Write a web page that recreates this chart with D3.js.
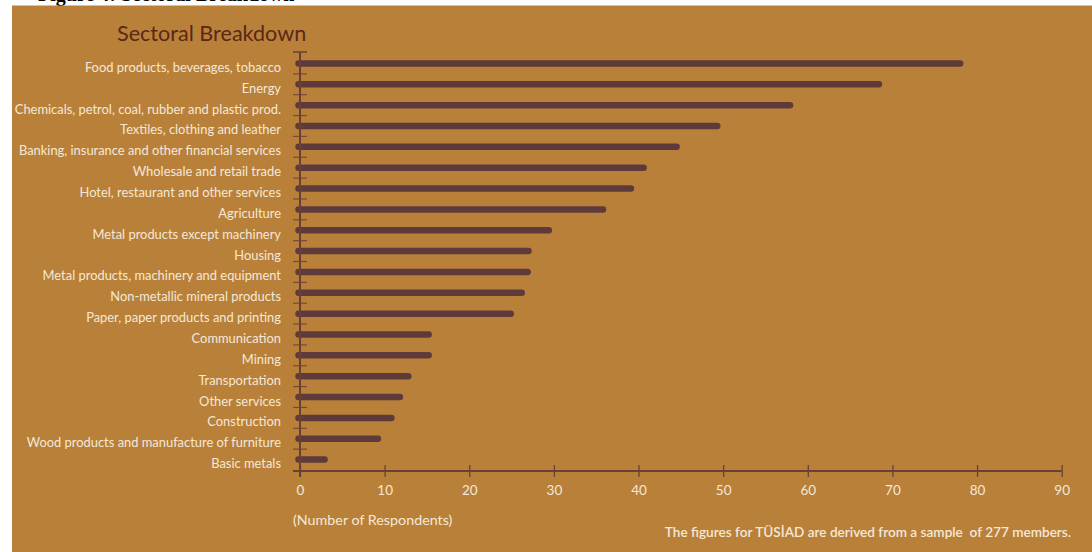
<!DOCTYPE html>
<html>
<head>
<meta charset="utf-8">
<script src="https://cdn.jsdelivr.net/npm/d3@7"></script>
<style>
  html, body { margin: 0; padding: 0; background: #ffffff; }
  svg { display: block; }
</style>
</head>
<body>
<svg id="chart" width="1092" height="552"></svg>
<script>
const categories = [
  "Food products, beverages, tobacco",
  "Energy",
  "Chemicals, petrol, coal, rubber and plastic prod.",
  "Textiles, clothing and leather",
  "Banking, insurance and other financial services",
  "Wholesale and retail trade",
  "Hotel, restaurant and other services",
  "Agriculture",
  "Metal products except machinery",
  "Housing",
  "Metal products, machinery and equipment",
  "Non-metallic mineral products",
  "Paper, paper products and printing",
  "Communication",
  "Mining",
  "Transportation",
  "Other services",
  "Construction",
  "Wood products and manufacture of furniture",
  "Basic metals"
];
const respondents = [78, 68.4, 57.9, 49.3, 44.5, 40.6, 39.1, 35.8, 29.4, 27.0, 26.9, 26.2, 24.9, 15.2, 15.2, 12.8, 11.8, 10.8, 9.2, 2.9];
const xTicks = [0, 10, 20, 30, 40, 50, 60, 70, 80, 90];
const titleText = "Sectoral Breakdown";
const figureText = "Figure 4: Sectoral Breakdown";
const axisTitle = "(Number of Respondents)";
const footnote = "The figures for TÜSİAD are derived from a sample  of 277 members.";

const svg = d3.select("#chart");
const font = "Lato, 'Open Sans', sans-serif";
const bg = "#b9803a";
const barColor = "#5e3b3a";
const axisColor = "#684036";
const textColor = "#f4e8d6";

// figure caption on the white strip, cut by the panel as in the source
svg.append("text").attr("x", 38).attr("y", 0.8)
  .attr("font-family", "'Liberation Serif', serif").attr("font-weight", "bold")
  .attr("font-size", 20).attr("fill", "#000").text(figureText);

svg.append("rect").attr("x", 12).attr("y", 5.5).attr("width", 1080).attr("height", 547).attr("fill", bg);

const x = d3.scaleLinear().domain([0, 90]).range([300, 1061.7]);
const y = d3.scaleBand().domain(categories).range([53, 470]).paddingInner(0).paddingOuter(0);
const axisY = 471;

// title
svg.append("text").attr("x", 117).attr("y", 41)
  .attr("font-family", font).attr("font-size", 21.6).attr("fill", "#5a2815")
  .text(titleText);

// y tick marks at band boundaries
const boundaries = categories.slice(1).map(c => y(c));
svg.append("g").selectAll("line").data(boundaries).join("line")
  .attr("x1", 293).attr("x2", 307)
  .attr("y1", d => d).attr("y2", d => d)
  .attr("stroke", "#7a4a38").attr("stroke-width", 1.2);
// top cap
svg.append("line").attr("x1", 293).attr("x2", 307).attr("y1", y(categories[0]) - 1).attr("y2", y(categories[0]) - 1)
  .attr("stroke", axisColor).attr("stroke-width", 1.5);

// bars
svg.append("g").selectAll("line").data(categories).join("line")
  .attr("x1", x(0) - 1.5)
  .attr("x2", (d, i) => x(respondents[i]))
  .attr("y1", d => y(d) + y.bandwidth() / 2)
  .attr("y2", d => y(d) + y.bandwidth() / 2)
  .attr("stroke", barColor).attr("stroke-width", 6.5).attr("stroke-linecap", "round");

// y axis line
svg.append("line").attr("x1", 300).attr("x2", 300).attr("y1", y(categories[0]) - 1).attr("y2", 477)
  .attr("stroke", axisColor).attr("stroke-width", 2);

// x axis
const xAxis = d3.axisBottom(x).tickValues(xTicks).tickSize(0).tickPadding(0);
const gx = svg.append("g").attr("transform", `translate(0,${axisY})`).call(xAxis);
gx.select(".domain").remove();
gx.selectAll(".tick text").remove();
svg.append("line").attr("x1", 293).attr("x2", x(90)).attr("y1", axisY).attr("y2", axisY)
  .attr("stroke", axisColor).attr("stroke-width", 2);
gx.selectAll(".tick").append("line").attr("y1", -6).attr("y2", 6)
  .attr("stroke", axisColor).attr("stroke-width", 1.3);
gx.selectAll(".tick").append("text").attr("y", 24)
  .attr("text-anchor", "middle")
  .attr("font-family", font).attr("font-size", 13.5).attr("fill", textColor)
  .text(d => d);

// y labels
svg.append("g").selectAll("text").data(categories).join("text")
  .attr("x", 281)
  .attr("y", d => y(d) + y.bandwidth() / 2 + 8.5)
  .attr("text-anchor", "end")
  .attr("font-family", font).attr("font-size", 12.9).attr("fill", textColor)
  .text(d => d);

svg.append("text").attr("x", 293).attr("y", 525)
  .attr("font-family", font).attr("font-size", 14.3).attr("fill", textColor)
  .text(axisTitle);

svg.append("text").attr("x", 1071).attr("y", 537).attr("text-anchor", "end")
  .attr("font-family", font).attr("font-size", 13.6).attr("font-weight", 600).attr("fill", textColor)
  .style("white-space", "pre")
  .text(footnote);
</script>
</body>
</html>
